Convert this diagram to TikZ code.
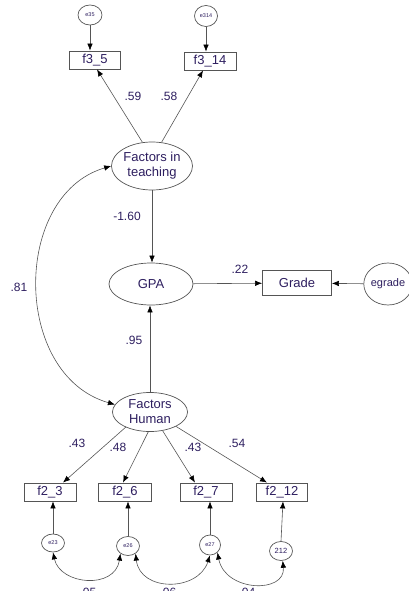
\documentclass[tikz,border=0pt]{standalone}
\usepackage{fontspec}
\setmainfont{Liberation Sans}
\usetikzlibrary{shapes.geometric,arrows.meta}
\definecolor{txt}{RGB}{45,30,95}
\definecolor{ln}{RGB}{85,85,85}
\tikzset{
  every node/.style={text=txt},
  obs/.style={draw=ln,line width=0.8pt,rectangle,inner sep=0pt,font=\fontsize{13}{14}\selectfont},
  lat/.style={draw=ln,line width=0.7pt,ellipse,inner sep=0pt,align=center,font=\fontsize{13}{15}\selectfont},
  err/.style={draw=ln,line width=0.7pt,ellipse,inner sep=0pt,font=\fontsize{5.5}{6}\selectfont},
  lab/.style={font=\fontsize{12}{13}\selectfont,inner sep=0pt},
  arr/.style={draw=ln,line width=0.6pt,-{Latex[length=7pt,width=5.5pt,color=black]}},
  darr/.style={draw=ln,line width=0.6pt,{Latex[length=7pt,width=5.5pt,color=black]}-{Latex[length=7pt,width=5.5pt,color=black]}},
}
\begin{document}
\begin{tikzpicture}[x=1pt,y=-1pt]
\useasboundingbox (0,0) rectangle (408,591);
% error terms top
\node[err,minimum width=24pt,minimum height=20pt] (e35) at (90,15) {e35};
\node[err,minimum width=23pt,minimum height=21pt] (e314) at (206,16) {e314};
% observed top
\node[obs,minimum width=51pt,minimum height=18pt] (f35) at (95,60) {f3\_5};
\node[obs,minimum width=52pt,minimum height=18pt] (f314) at (210,61) {f3\_14};
% latent
\node[lat,minimum width=81pt,minimum height=48pt] (teach) at (152,166) {Factors in\\teaching};
\node[lat,minimum width=84pt,minimum height=42pt] (gpa) at (151,284) {GPA};
\node[obs,minimum width=69pt,minimum height=25pt] (grade) at (297,283) {Grade};
\node[err,minimum width=42pt,minimum height=42pt,font=\fontsize{11}{12}\selectfont] (egrade) at (388,284) {egrade};
\node[lat,minimum width=75pt,minimum height=39pt] (hum) at (150,412) {Factors\\Human};
% observed bottom
\node[obs,minimum width=52pt,minimum height=18pt] (f23) at (50,492) {f2\_3};
\node[obs,minimum width=53pt,minimum height=18pt] (f26) at (125,492) {f2\_6};
\node[obs,minimum width=52pt,minimum height=18pt] (f27) at (206,492) {f2\_7};
\node[obs,minimum width=51pt,minimum height=18pt] (f212) at (282,492) {f2\_12};
% error terms bottom
\node[err,minimum width=23pt,minimum height=18pt] (e23) at (53,543) {e23};
\node[err,minimum width=23pt,minimum height=19pt] (e26) at (128,546) {e26};
\node[err,minimum width=21pt,minimum height=20pt] (e27) at (210,545) {e27};
\node[err,minimum width=23pt,minimum height=19pt,font=\fontsize{7.5}{8}\selectfont] (e212) at (281,551) {212};
% arrows top
\draw[arr] (e35.south) -- (e35.south |- f35.north);
\draw[arr] (e314.south) -- (e314.south |- f314.north);
\draw[arr] (teach.112) -- ([xshift=2pt]f35.south);
\draw[arr] (teach.68) -- ([xshift=-7pt]f314.south);
\node[lab] (l59) at (133,96) {.59};
\node[lab] (l58) at (169,96) {.58};
% structural
\draw[arr] (teach.south) -- (teach.south |- gpa.north);
\node[lab] (l160) at (127,216) {-1.60};
\draw[arr] (gpa) -- (grade);
\node[lab] (l22) at (240,269) {.22};
\draw[arr] (egrade) -- (grade);
\draw[arr] (hum.north) -- (hum.north |- gpa.south);
\node[lab] (l95) at (134,340) {.95};
\draw[darr] (teach.west) .. controls (12,195) and (12,375) .. (hum.168);
\node[lab] (l81) at (19,287) {.81};
% human loadings
\draw[arr] (hum.212) -- ([xshift=13pt]f23.north);
\draw[arr] (hum.265) -- ([xshift=-2pt]f26.north);
\draw[arr] (hum.304) -- ([xshift=-11pt]f27.north);
\draw[arr] (hum.331) -- ([xshift=-15pt]f212.north);
\node[lab] (l43a) at (77,443) {.43};
\node[lab] (l48) at (118,447) {.48};
\node[lab] (l43b) at (193,447) {.43};
\node[lab] (l54) at (237,443) {.54};
% error arrows bottom
\draw[arr] (e23.north) -- (e23.north |- f23.south);
\draw[arr] (e26.north) -- (e26.north |- f26.south);
\draw[arr] (e27.north) -- (e27.north |- f27.south);
\draw[arr] (e212.north) -- ([xshift=1pt]f212.south);
% covariances bottom
\draw[darr] (e23.south) .. controls (60,585) and (115,590) .. (e26.225);
\draw[darr] (e26.-45) .. controls (140,592) and (198,592) .. (e27.south);
\draw[darr] (e27.-45) .. controls (225,592) and (286,594) .. (e212.-80);
\node[lab] (c1) at (88,592) {.05};
\node[lab] (c2) at (168,592) {.06};
\node[lab] (c3) at (247,592) {.04};
\end{tikzpicture}
\end{document}
